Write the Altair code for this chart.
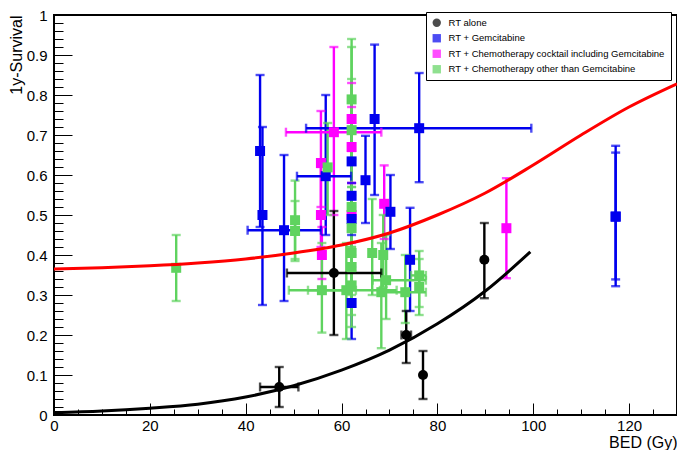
import altair as alt
import pandas as pd

FONT = "Liberation Sans"

# ---- RT alone (black circles)
rt_x   = [47.0, 58.4, 73.5, 77.0, 89.8]
rt_y   = [0.070, 0.355, 0.200, 0.100, 0.388]
rt_xlo = [43.0, 48.6, 72.5, 77.0, 89.8]
rt_xhi = [51.0, 68.3, 74.5, 77.0, 89.8]
rt_ylo = [0.020, 0.200, 0.130, 0.040, 0.292]
rt_yhi = [0.120, 0.510, 0.260, 0.160, 0.480]

# ---- RT + Gemcitabine (blue squares)
gem_x   = [43.0, 43.5, 48.0, 56.7, 62.1, 62.1, 62.1, 62.1, 65.0, 66.9, 70.2, 74.3, 76.2, 117.2, 117.2]
gem_y   = [0.660, 0.500, 0.462, 0.597, 0.634, 0.548, 0.490, 0.280, 0.587, 0.740, 0.508, 0.388, 0.717, 0.496, 0.496]
gem_xlo = [43.0, 43.5, 40.4, 50.7, 62.1, 62.1, 62.1, 62.1, 65.0, 66.9, 70.2, 74.3, 52.6, 117.2, 117.2]
gem_xhi = [43.0, 43.5, 55.7, 62.0, 62.1, 62.1, 62.1, 62.1, 65.0, 66.9, 70.2, 74.3, 99.6, 117.2, 117.2]
gem_ylo = [0.470, 0.275, 0.285, 0.450, 0.550, 0.450, 0.400, 0.190, 0.480, 0.550, 0.415, 0.260, 0.582, 0.339, 0.322]
gem_yhi = [0.850, 0.720, 0.650, 0.800, 0.720, 0.640, 0.580, 0.370, 0.698, 0.926, 0.600, 0.518, 0.855, 0.656, 0.673]

# ---- RT + Chemotherapy cocktail including Gemcitabine (magenta squares)
mix_x   = [55.7, 55.7, 55.9, 58.4, 62.1, 62.1, 62.1, 68.9, 94.4]
mix_y   = [0.630, 0.500, 0.400, 0.707, 0.740, 0.670, 0.500, 0.528, 0.467]
mix_xlo = [55.7, 55.7, 55.9, 48.4, 62.1, 62.1, 62.1, 68.9, 94.4]
mix_xhi = [55.7, 55.7, 55.9, 68.3, 62.1, 62.1, 62.1, 68.9, 94.4]
mix_ylo = [0.520, 0.420, 0.340, 0.500, 0.660, 0.580, 0.430, 0.440, 0.342]
mix_yhi = [0.760, 0.620, 0.470, 0.920, 0.830, 0.770, 0.580, 0.624, 0.592]

# ---- RT + Chemotherapy other than Gemcitabine (green squares)
oth_x   = [25.5, 50.3, 50.3, 57.1, 55.9, 61.0, 62.1, 62.1, 62.1, 62.1, 62.1, 62.1, 62.1, 66.4, 68.7, 69.3, 68.3, 73.3, 76.2, 76.2]
oth_y   = [0.368, 0.487, 0.460, 0.619, 0.312, 0.312, 0.789, 0.712, 0.520, 0.467, 0.405, 0.370, 0.324, 0.405, 0.400, 0.337, 0.307, 0.307, 0.349, 0.320]
oth_xlo = [25.5, 50.3, 50.3, 57.1, 49.0, 53.0, 62.1, 62.1, 62.1, 62.1, 62.1, 62.1, 62.1, 66.4, 68.7, 66.5, 68.3, 68.0, 74.5, 76.2]
oth_xhi = [25.5, 50.3, 50.3, 57.1, 63.0, 71.5, 62.1, 62.1, 62.1, 62.1, 62.1, 62.1, 62.1, 66.4, 68.7, 77.6, 68.3, 77.6, 77.6, 76.2]
oth_ylo = [0.285, 0.390, 0.385, 0.500, 0.206, 0.190, 0.640, 0.570, 0.420, 0.360, 0.300, 0.250, 0.220, 0.300, 0.320, 0.240, 0.167, 0.230, 0.250, 0.270]
oth_yhi = [0.450, 0.586, 0.535, 0.730, 0.430, 0.430, 0.940, 0.920, 0.840, 0.570, 0.520, 0.480, 0.420, 0.540, 0.500, 0.450, 0.430, 0.400, 0.410, 0.390]

# ---- fitted curves
red_x = [0, 10, 20, 30, 40, 50, 60, 70, 80, 90, 100, 110, 120, 130]
red_y = [0.365, 0.368, 0.373, 0.380, 0.390, 0.405, 0.425, 0.455, 0.500, 0.555, 0.625, 0.700, 0.770, 0.828]
blk_x = [0, 10, 20, 30, 40, 50, 60, 70, 80, 90, 99.4]
blk_y = [0.006, 0.010, 0.017, 0.027, 0.045, 0.073, 0.112, 0.162, 0.228, 0.310, 0.408]

SERIES = ["RT alone", "RT + Gemcitabine",
          "RT + Chemotherapy cocktail including Gemcitabine",
          "RT + Chemotherapy other than Gemcitabine"]
COLORS = ["#000000", "#0000ee", "#ff00ff", "#5fd35f"]
SHAPES = ["circle", "square", "square", "square"]

X_MAJOR = [0, 20, 40, 60, 80, 100, 120]
X_MINOR = [v for v in range(0, 131, 5) if v % 20]
Y_MAJOR = [round(i * 0.1, 1) for i in range(11)]
Y_MINOR = [round(i * 0.02, 2) for i in range(51) if i % 5]


def frame(idx, xs, ys, xlo, xhi, ylo, yhi):
    return pd.DataFrame(dict(series=SERIES[idx], col=COLORS[idx], x=xs, y=ys,
                             xlo=xlo, xhi=xhi, ylo=ylo, yhi=yhi))


pts = pd.concat([
    frame(2, mix_x, mix_y, mix_xlo, mix_xhi, mix_ylo, mix_yhi),
    frame(1, gem_x, gem_y, gem_xlo, gem_xhi, gem_ylo, gem_yhi),
    frame(3, oth_x, oth_y, oth_xlo, oth_xhi, oth_ylo, oth_yhi),
    frame(0, rt_x, rt_y, rt_xlo, rt_xhi, rt_ylo, rt_yhi),
], ignore_index=True)
pts["order"] = range(len(pts))
xe = pts[pts["xhi"] > pts["xlo"]]

red_df = pd.DataFrame({"x": red_x, "y": red_y})
blk_df = pd.DataFrame({"x": blk_x, "y": blk_y})

xsc = alt.Scale(domain=[0, 130], nice=False, zero=False)
ysc = alt.Scale(domain=[0, 1], nice=False, zero=False)

xax = alt.Axis(values=X_MAJOR, tickSize=12, offset=-12, domain=False, grid=False,
               tickColor="black", tickWidth=1, labelFont=FONT, labelFontSize=15,
               labelColor="black", labelPadding=3, labelFlush=False, labelOverlap=False,
               format="d", title="BED (Gy)", titleAnchor="end", titleFont=FONT,
               titleFontSize=16, titleFontWeight="normal", titleColor="black",
               titlePadding=1, orient="bottom")
yax = alt.Axis(values=Y_MAJOR, tickSize=18, offset=-18, domain=False, grid=False,
               tickColor="black", tickWidth=1, labelFont=FONT, labelFontSize=15,
               labelColor="black", labelPadding=7, labelFlush=False, labelOverlap=False,
               format=".1~f", title="1y-Survival", titleAnchor="end", titleFont=FONT,
               titleFontSize=16, titleFontWeight="normal", titleColor="black",
               titlePadding=2, orient="left")
xmin = alt.Axis(values=X_MINOR, tickSize=6, offset=-6, domain=False, grid=False,
                tickColor="black", tickWidth=1, labels=False, title=None, orient="bottom")
ymin = alt.Axis(values=Y_MINOR, tickSize=9, offset=-9, domain=False, grid=False,
                tickColor="black", tickWidth=1, labels=False, title=None, orient="left")

col_raw = alt.Color("col:N", scale=None)
leg = alt.Legend(orient="none", legendX=372, legendY=-3, title=None, labelFont=FONT,
                 labelFontSize=9.5, labelColor="black", labelLimit=400, symbolSize=70,
                 symbolStrokeWidth=0, symbolOpacity=1, fillColor="white",
                 strokeColor="black", padding=6, rowPadding=4.5, labelOffset=7)

W = 2.4
base = alt.Chart(pts)
vbar = base.mark_rule(strokeWidth=W).encode(
    x=alt.X("x:Q", scale=xsc, axis=xax), y=alt.Y("ylo:Q", scale=ysc, axis=yax),
    y2="yhi:Q", color=col_raw)
hbar = alt.Chart(xe).mark_rule(strokeWidth=W).encode(
    x=alt.X("xlo:Q", scale=xsc, axis=xax), x2="xhi:Q",
    y=alt.Y("y:Q", scale=ysc, axis=yax), color=col_raw)
cap_ylo = base.mark_tick(orient="horizontal", size=9, thickness=W).encode(
    x=alt.X("x:Q", scale=xsc, axis=xax), y=alt.Y("ylo:Q", scale=ysc, axis=yax), color=col_raw)
cap_yhi = base.mark_tick(orient="horizontal", size=9, thickness=W).encode(
    x=alt.X("x:Q", scale=xsc, axis=xax), y=alt.Y("yhi:Q", scale=ysc, axis=yax), color=col_raw)
cap_xlo = alt.Chart(xe).mark_tick(orient="vertical", size=9, thickness=W).encode(
    x=alt.X("xlo:Q", scale=xsc, axis=xax), y=alt.Y("y:Q", scale=ysc, axis=yax), color=col_raw)
cap_xhi = alt.Chart(xe).mark_tick(orient="vertical", size=9, thickness=W).encode(
    x=alt.X("xhi:Q", scale=xsc, axis=xax), y=alt.Y("y:Q", scale=ysc, axis=yax), color=col_raw)
points = base.mark_point(filled=True, size=100, opacity=1).encode(
    x=alt.X("x:Q", scale=xsc, axis=xax), y=alt.Y("y:Q", scale=ysc, axis=yax),
    color=alt.Color("series:N", scale=alt.Scale(domain=SERIES, range=COLORS), legend=leg),
    shape=alt.Shape("series:N", scale=alt.Scale(domain=SERIES, range=SHAPES), legend=leg),
    order=alt.Order("order:Q"))
red = alt.Chart(red_df).mark_line(color="#ff0000", strokeWidth=3, interpolate="monotone").encode(
    x=alt.X("x:Q", scale=xsc, axis=xax), y=alt.Y("y:Q", scale=ysc, axis=yax))
blk = alt.Chart(blk_df).mark_line(color="#000000", strokeWidth=3, interpolate="monotone").encode(
    x=alt.X("x:Q", scale=xsc, axis=xax), y=alt.Y("y:Q", scale=ysc, axis=yax))

inner = alt.layer(vbar, hbar, cap_ylo, cap_yhi, cap_xlo, cap_xhi, points, red, blk)
minor = alt.Chart(red_df).mark_point(opacity=0).encode(
    x=alt.X("x:Q", scale=xsc, axis=xmin), y=alt.Y("y:Q", scale=ysc, axis=ymin))

chart = alt.layer(inner, minor).resolve_axis(x="independent", y="independent").properties(
    width=623, height=400,
    padding={"left": 46, "top": 7, "right": 0, "bottom": 35},
    autosize=alt.AutoSizeParams(type="none"),
    background="white",
).configure_view(stroke="black", strokeWidth=2)

chart.save("out.html", embed_options={"renderer": "svg", "actions": False})
